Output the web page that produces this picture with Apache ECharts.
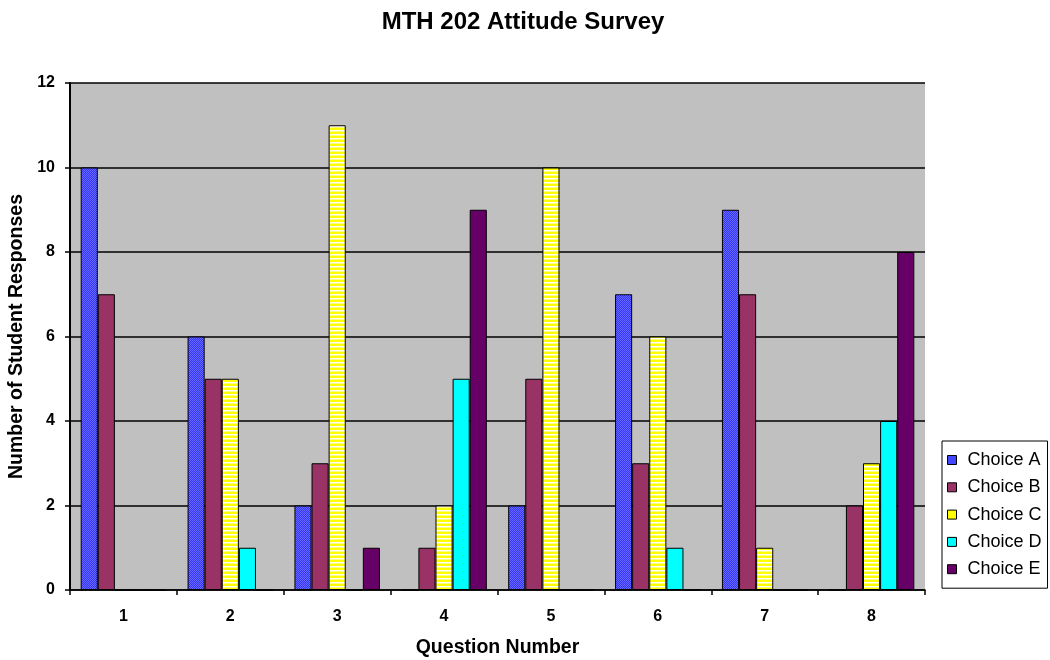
<!DOCTYPE html>
<html>
<head>
<meta charset="utf-8">
<script src="https://cdn.jsdelivr.net/npm/echarts@6/dist/echarts.min.js"></script>
<style>
  html, body { margin: 0; padding: 0; background: #fff; }
  #chart { width: 1050px; height: 660px; }
</style>
</head>
<body>
<div id="chart"></div>
<script>
// Survey responses per question (1-8) for each answer choice
const questions = ['1', '2', '3', '4', '5', '6', '7', '8'];
const choiceA = [10, 6, 2, 0, 2, 7, 9, 0];
const choiceB = [7, 5, 3, 1, 5, 3, 7, 2];
const choiceC = [0, 5, 11, 2, 10, 6, 1, 3];
const choiceD = [0, 1, 0, 5, 0, 1, 0, 4];
const choiceE = [0, 0, 1, 9, 0, 0, 0, 8];
const seriesNames = ['Choice A', 'Choice B', 'Choice C', 'Choice D', 'Choice E'];

// Fill patterns for the bars
function makePattern(w, h, paint) {
  const c = document.createElement('canvas');
  c.width = w; c.height = h;
  paint(c.getContext('2d'));
  return { image: c, repeat: 'repeat' };
}
const blueDither = makePattern(2, 2, ctx => {
  ctx.fillStyle = '#3333FF'; ctx.fillRect(0, 0, 2, 2);
  ctx.fillStyle = '#6A6AFF'; ctx.fillRect(0, 0, 1, 1); ctx.fillRect(1, 1, 1, 1);
});
const yellowStripes = makePattern(4, 4, ctx => {
  ctx.fillStyle = '#FFFF00'; ctx.fillRect(0, 0, 4, 4);
  ctx.fillStyle = '#FFFFFF'; ctx.fillRect(0, 2, 4, 1.5);
});

const fills = [blueDither, '#993366', yellowStripes, '#00FFFF', '#660066'];
const legendFills = ['#4444FF', '#993366', '#FFFF00', '#00FFFF', '#660066'];
const values = [choiceA, choiceB, choiceC, choiceD, choiceE];

const chart = echarts.init(document.getElementById('chart'), null, { renderer: 'canvas' });
const font = '"Liberation Sans", Arial, sans-serif';

chart.setOption({
  animation: false,
  backgroundColor: '#FFFFFF',
  title: {
    text: 'MTH 202 Attitude Survey',
    left: 518, top: 5, textAlign: 'center',
    textStyle: { fontFamily: font, fontSize: 24, fontWeight: 'bold', color: '#000' }
  },
  grid: {
    left: 70, right: 125, top: 83, bottom: 70,
    outerBoundsMode: 'none',
    show: true, backgroundColor: '#C0C0C0', borderWidth: 0
  },
  legend: {
    orient: 'vertical',
    left: 942, top: 441,
    padding: [10, 6, 10, 5],
    itemWidth: 9, itemHeight: 9, itemGap: 9.3,
    borderColor: '#000', borderWidth: 1,
    backgroundColor: '#FFFFFF',
    icon: 'rect',
    textStyle: { fontFamily: font, fontSize: 18, color: '#000', padding: [0, 0, 0, 6] },
    data: seriesNames.map((n, i) => ({
      name: n,
      itemStyle: { color: legendFills[i], borderColor: '#000', borderWidth: 1 }
    }))
  },
  xAxis: {
    type: 'category',
    data: questions,
    name: 'Question Number',
    nameLocation: 'middle',
    nameGap: 48,
    nameTextStyle: { fontFamily: font, fontSize: 19.5, fontWeight: 'bold', color: '#000' },
    axisLine: { lineStyle: { color: '#000', width: 1.5 } },
    axisTick: { show: true, length: 5, lineStyle: { color: '#000', width: 1.5 } },
    axisLabel: { fontFamily: font, fontSize: 16, fontWeight: 'bold', color: '#000', margin: 19 }
  },
  yAxis: {
    type: 'value',
    min: 0, max: 12, interval: 2,
    name: 'Number of Student Responses',
    nameLocation: 'middle',
    nameRotate: 90,
    nameGap: 42,
    nameTextStyle: { fontFamily: font, fontSize: 19.5, fontWeight: 'bold', color: '#000' },
    axisLine: { show: true, lineStyle: { color: '#000', width: 2 } },
    axisTick: { show: true, length: 5, lineStyle: { color: '#000', width: 1.5 } },
    axisLabel: { fontFamily: font, fontSize: 16, fontWeight: 'bold', color: '#000', margin: 15 },
    splitLine: { show: true, lineStyle: { color: '#000', width: 1.5 } }
  },
  series: seriesNames.map((name, i) => ({
    name: name,
    type: 'bar',
    data: values[i],
    barGap: '0%',
    barCategoryGap: '20%',
    itemStyle: { color: fills[i], borderColor: '#000', borderWidth: 1 }
  }))
});
</script>
</body>
</html>
